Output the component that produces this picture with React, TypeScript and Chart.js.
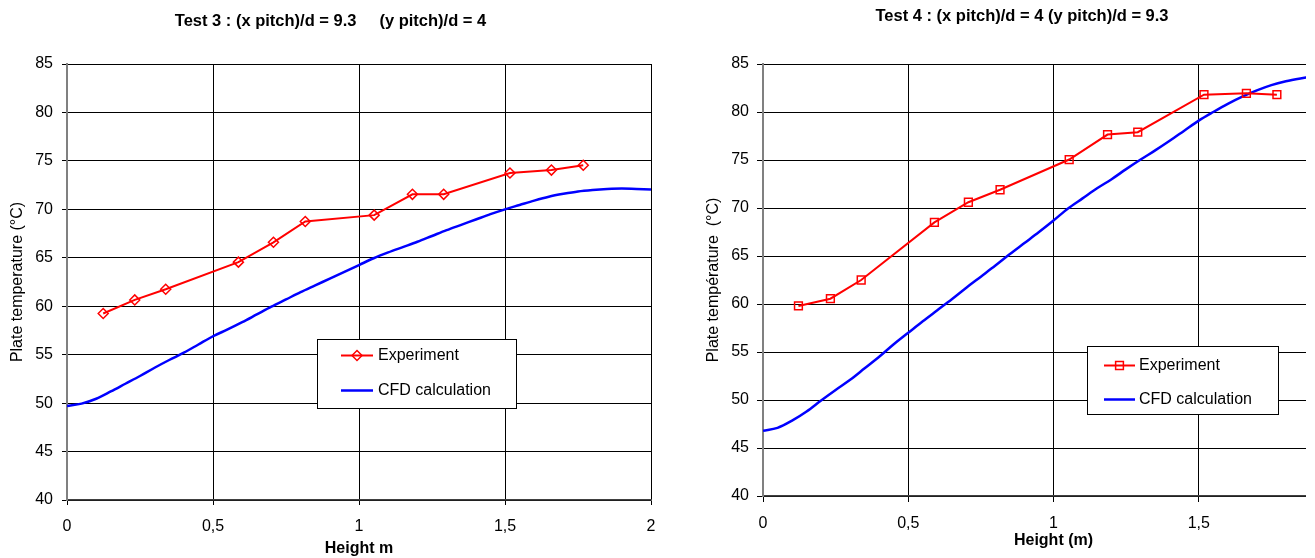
import React, { useEffect, useRef } from 'react';
import { Chart, registerables } from 'chart.js';
import { drawPoint } from 'chart.js/helpers';

Chart.register(...registerables);
Chart.defaults.font.family = 'Arial, "Liberation Sans", sans-serif';
Chart.defaults.font.size = 16;
Chart.defaults.color = '#000000';

// ---------- data ----------
const xTickLabels = ['0', '0,5', '1', '1,5', '2'];
const yTickLabels = ['40', '45', '50', '55', '60', '65', '70', '75', '80', '85'];
const seriesLabels = ['Experiment', 'CFD calculation'];

const test3Title = 'Test 3 : (x pitch)/d = 9.3     (y pitch)/d = 4';
const test3XTitle = 'Height m';
const test3YTitle = 'Plate temperature (°C)';

const test4Title = 'Test 4 : (x pitch)/d = 4 (y pitch)/d = 9.3';
const test4XTitle = 'Height (m)';
const test4YTitle = 'Plate température  (°C)';

const test3ExpX = [0.124, 0.232, 0.338, 0.587, 0.707, 0.816, 1.052, 1.183, 1.29, 1.517, 1.659, 1.768];
const test3ExpY = [59.25, 60.65, 61.75, 64.55, 66.6, 68.75, 69.4, 71.55, 71.55, 73.75, 74.05, 74.55];

const test3CfdX = [0, 0.05, 0.1, 0.15, 0.2, 0.25, 0.3, 0.35, 0.4, 0.45, 0.5, 0.55, 0.6, 0.65, 0.7, 0.75, 0.8, 0.85, 0.9, 0.95, 1.0, 1.05, 1.1, 1.15, 1.2, 1.25, 1.3, 1.35, 1.4, 1.45, 1.5, 1.55, 1.6, 1.65, 1.7, 1.75, 1.8, 1.85, 1.9, 1.95, 2.0];
const test3CfdY = [49.7, 49.95, 50.45, 51.2, 52.0, 52.8, 53.65, 54.45, 55.2, 56.05, 56.9, 57.6, 58.35, 59.15, 59.95, 60.7, 61.45, 62.15, 62.85, 63.55, 64.25, 64.95, 65.55, 66.1, 66.65, 67.25, 67.85, 68.4, 68.95, 69.5, 70.0, 70.45, 70.9, 71.3, 71.6, 71.85, 72.0, 72.1, 72.15, 72.1, 72.05];

const test4ExpX = [0.122, 0.232, 0.338, 0.59, 0.707, 0.816, 1.054, 1.186, 1.29, 1.518, 1.664, 1.769];
const test4ExpY = [59.8, 60.55, 62.5, 68.5, 70.6, 71.9, 75.05, 77.65, 77.9, 81.8, 81.95, 81.8];

const test4CfdX = [0, 0.05, 0.1, 0.15, 0.2, 0.25, 0.3, 0.35, 0.4, 0.45, 0.5, 0.55, 0.6, 0.65, 0.7, 0.75, 0.8, 0.85, 0.9, 0.95, 1.0, 1.05, 1.1, 1.15, 1.2, 1.25, 1.3, 1.35, 1.4, 1.45, 1.5, 1.55, 1.6, 1.65, 1.7, 1.75, 1.8, 1.85, 1.9];
const test4CfdY = [46.8, 47.1, 47.85, 48.8, 49.95, 51.05, 52.1, 53.3, 54.5, 55.8, 57.0, 58.2, 59.35, 60.5, 61.7, 62.85, 64.0, 65.2, 66.35, 67.5, 68.7, 69.95, 71.0, 72.05, 73.0, 74.05, 75.05, 76.0, 77.0, 78.05, 79.1, 80.0, 80.85, 81.6, 82.25, 82.8, 83.2, 83.5, 83.75];

// ---------- legend plugin ----------
const legendBox = {
  id: 'legendBox',
  afterDraw(chart: any, _args: any, opts: any) {
    const { ctx, chartArea } = chart;
    const x0 = Math.round(chartArea.left + opts.dx);
    const y0 = Math.round(chartArea.top + opts.dy);
    ctx.save();
    ctx.fillStyle = '#ffffff';
    ctx.fillRect(x0, y0, opts.w, opts.h);
    ctx.strokeStyle = '#000000';
    ctx.lineWidth = 1;
    ctx.strokeRect(x0 + 0.5, y0 + 0.5, opts.w - 1, opts.h - 1);
    ctx.font = '16px Arial, "Liberation Sans", sans-serif';
    ctx.textBaseline = 'middle';
    ctx.textAlign = 'left';
    chart.data.datasets.forEach((ds: any, i: number) => {
      const y = y0 + opts.rows[i];
      ctx.strokeStyle = ds.borderColor;
      ctx.lineWidth = ds.borderWidth;
      ctx.beginPath();
      ctx.moveTo(x0 + opts.lineX0, y);
      ctx.lineTo(x0 + opts.lineX1, y);
      ctx.stroke();
      if (ds.pointRadius > 0) {
        ctx.fillStyle = ds.pointBackgroundColor;
        ctx.strokeStyle = ds.pointBorderColor;
        ctx.lineWidth = ds.pointBorderWidth;
        drawPoint(
          ctx,
          { pointStyle: ds.pointStyle, radius: ds.pointRadius, rotation: 0, borderWidth: ds.pointBorderWidth } as any,
          x0 + (opts.lineX0 + opts.lineX1) / 2,
          y
        );
      }
      ctx.fillStyle = '#000000';
      ctx.fillText(ds.label, x0 + opts.textX, y);
    });
    ctx.restore();
  },
};

type PanelSpec = {
  left: number;
  canvasWidth: number;
  clipWidth: number;
  padRight: number;
  title: string;
  titleTop: number;
  titleBottom: number;
  xTitle: string;
  xTitlePad: number;
  xAxisHeight: number;
  xTickLen: number;
  xTickPad: number;
  yTitle: string;
  yTitlePad: number;
  yAxisWidth: number;
  yTickLen: number;
  yTickPad: number;
  expX: number[];
  expY: number[];
  cfdX: number[];
  cfdY: number[];
  pointStyle: string;
  pointRadius: number;
  legend: any;
};

const toPoints = (xs: number[], ys: number[]) => xs.map((x, i) => ({ x, y: ys[i] }));

function buildConfig(s: PanelSpec): any {
  return {
    type: 'line',
    data: {
      datasets: [
        {
          label: seriesLabels[0],
          data: toPoints(s.expX, s.expY),
          borderColor: '#ff0000',
          borderWidth: 2,
          pointStyle: s.pointStyle,
          pointRadius: s.pointRadius,
          pointHoverRadius: s.pointRadius,
          pointBorderWidth: 1.5,
          pointBorderColor: '#ff0000',
          pointBackgroundColor: 'rgba(255,255,255,0)',
          tension: 0,
          fill: false,
        },
        {
          label: seriesLabels[1],
          data: toPoints(s.cfdX, s.cfdY),
          borderColor: '#0000ff',
          borderWidth: 2.5,
          pointRadius: 0,
          pointHoverRadius: 0,
          cubicInterpolationMode: 'monotone',
          fill: false,
        },
      ],
    },
    options: {
      animation: false,
      responsive: false,
      devicePixelRatio: 1,
      events: [],
      layout: { padding: { left: 0, right: s.padRight, top: 0, bottom: 0 } },
      plugins: {
        legend: { display: false },
        tooltip: { enabled: false },
        title: {
          display: true,
          text: s.title,
          color: '#000000',
          font: { size: 16.5, weight: 'bold' },
          padding: { top: s.titleTop, bottom: s.titleBottom },
        },
        legendBox: s.legend,
      },
      scales: {
        x: {
          type: 'linear',
          min: 0,
          max: 2,
          afterFit: (scale: any) => {
            scale.height = s.xAxisHeight;
          },
          ticks: {
            stepSize: 0.5,
            autoSkip: false,
            maxRotation: 0,
            padding: s.xTickPad,
            color: '#000000',
            font: { size: 16 },
            callback: (_v: any, i: number) => xTickLabels[i],
          },
          grid: { color: '#000000', lineWidth: 1, tickLength: s.xTickLen, drawTicks: true },
          border: { display: true, color: '#404040', width: 1.5 },
          title: {
            display: true,
            text: s.xTitle,
            color: '#000000',
            font: { size: 16, weight: 'bold' },
            padding: { top: 0, bottom: s.xTitlePad },
          },
        },
        y: {
          type: 'linear',
          min: 40,
          max: 85,
          afterFit: (scale: any) => {
            scale.width = s.yAxisWidth;
          },
          ticks: {
            stepSize: 5,
            autoSkip: false,
            padding: s.yTickPad,
            color: '#000000',
            font: { size: 16 },
            callback: (_v: any, i: number) => yTickLabels[i],
          },
          grid: { color: '#000000', lineWidth: 1, tickLength: s.yTickLen, drawTicks: true },
          border: { display: true, color: '#808080', width: 2 },
          title: {
            display: true,
            text: s.yTitle,
            color: '#000000',
            font: { size: 16 },
            padding: { top: s.yTitlePad, bottom: 0 },
          },
        },
      },
    },
    plugins: [legendBox],
  };
}

const leftSpec: PanelSpec = {
  left: 10,
  canvasWidth: 661,
  clipWidth: 661,
  padRight: 20,
  title: test3Title,
  titleTop: 11.6,
  titleBottom: 32.6,
  xTitle: test3XTitle,
  xTitlePad: 0,
  xAxisHeight: 58,
  xTickLen: 5,
  xTickPad: 12,
  yTitle: test3YTitle,
  yTitlePad: -1.6,
  yAxisWidth: 57,
  yTickLen: 5,
  yTickPad: 9,
  expX: test3ExpX,
  expY: test3ExpY,
  cfdX: test3CfdX,
  cfdY: test3CfdY,
  pointStyle: 'rectRot',
  pointRadius: 5,
  legend: { dx: 249.5, dy: 274.5, w: 200, h: 70, rows: [16.5, 51.5], lineX0: 24, lineX1: 56, textX: 61 },
};

const rightSpec: PanelSpec = {
  left: 700,
  canvasWidth: 664,
  clipWidth: 606,
  padRight: 20,
  title: test4Title,
  titleTop: 6.6,
  titleBottom: 37.6,
  xTitle: test4XTitle,
  xTitlePad: 7.7,
  xAxisHeight: 62,
  xTickLen: 6,
  xTickPad: 11.6,
  yTitle: test4YTitle,
  yTitlePad: 4.4,
  yAxisWidth: 63,
  yTickLen: 6,
  yTickPad: 8,
  expX: test4ExpX,
  expY: test4ExpY,
  cfdX: test4CfdX,
  cfdY: test4CfdY,
  pointStyle: 'rect',
  pointRadius: 5.5,
  legend: { dx: 324.3, dy: 282, w: 192, h: 69, rows: [19.5, 53.5], lineX0: 17, lineX1: 48, textX: 52 },
};

function ChartPanel({ spec }: { spec: PanelSpec }) {
  const ref = useRef<HTMLCanvasElement>(null);
  useEffect(() => {
    if (!ref.current) return;
    const chart = new Chart(ref.current, buildConfig(spec));
    return () => chart.destroy();
  }, [spec]);
  return (
    <div
      style={{
        position: 'absolute',
        left: spec.left,
        top: 0,
        width: spec.clipWidth,
        height: 558,
        overflow: 'hidden',
      }}
    >
      <canvas
        ref={ref}
        width={spec.canvasWidth}
        height={558}
        style={{ display: 'block', width: spec.canvasWidth, height: 558 }}
      />
    </div>
  );
}

export default function App() {
  return (
    <div
      style={{
        position: 'fixed',
        left: 0,
        top: 0,
        width: 1315,
        height: 558,
        overflow: 'hidden',
        background: '#ffffff',
      }}
    >
      <ChartPanel spec={leftSpec} />
      <ChartPanel spec={rightSpec} />
    </div>
  );
}
